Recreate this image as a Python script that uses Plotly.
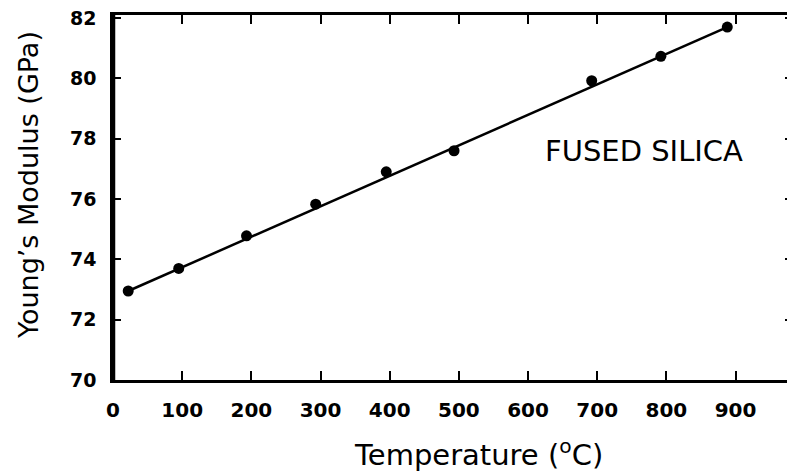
import plotly.graph_objects as go

temperature_c = [22, 95, 193, 293, 395, 493, 692, 792, 888]
youngs_modulus_gpa = [72.95, 73.70, 74.78, 75.83, 76.90, 77.60, 79.92, 80.73, 81.70]
fit_x = [22, 888]
fit_y = [72.95, 81.70]
x_ticks = [0, 100, 200, 300, 400, 500, 600, 700, 800, 900]
y_ticks = [70, 72, 74, 76, 78, 80, 82]

fig = go.Figure()
fig.add_trace(go.Scatter(x=fit_x, y=fit_y, mode="lines",
                         line=dict(color="black", width=2.5), showlegend=False))
fig.add_trace(go.Scatter(x=temperature_c, y=youngs_modulus_gpa, mode="markers",
                         marker=dict(color="black", size=11), showlegend=False))

xtickfont = dict(family="DejaVu Sans", size=20, color="black", weight="bold")
ytickfont = dict(family="DejaVu Sans", size=19, color="black", weight="bold")
fig.update_xaxes(range=[0, 983], tickvals=x_ticks, ticktext=[str(v) for v in x_ticks],
                 ticks="inside", ticklen=9, tickwidth=1.5, tickcolor="black",
                 showline=True, linecolor="black", linewidth=2.5, mirror="ticks",
                 showgrid=False, zeroline=False, tickfont=xtickfont,
                 ticklabelstandoff=10, automargin=False, ticklabeloverflow="allow")
fig.update_yaxes(range=[70, 82.1], tickvals=y_ticks,
                 ticks="inside", ticklen=8, tickwidth=1.5, tickcolor="black",
                 showline=True, linecolor="black", linewidth=2.5, mirror="ticks",
                 showgrid=False, zeroline=False, tickfont=ytickfont,
                 ticklabelstandoff=10, automargin=False, ticklabeloverflow="allow")

fig.add_shape(type="line", xref="paper", yref="paper", x0=0, x1=0, y0=0, y1=1,
              line=dict(color="black", width=4.5))

fig.add_annotation(text="Temperature (<sup>o</sup>C)", xref="paper", yref="paper",
                   x=(478 - 113) / 680, y=-(453 - 380) / 365, showarrow=False,
                   font=dict(family="DejaVu Sans", size=29, color="black"),
                   xanchor="center", yanchor="middle")
fig.add_annotation(text="Young’s Modulus (GPa)", xref="paper", yref="paper",
                   x=(28 - 113) / 680, y=(380 - 185) / 365, showarrow=False,
                   font=dict(family="DejaVu Sans", size=27, color="black"),
                   textangle=-90, xanchor="center", yanchor="middle")
fig.add_annotation(text="FUSED SILICA", x=767, y=77.6, showarrow=False,
                   font=dict(family="DejaVu Sans", size=29, color="black"))

# page body has an 8px default margin, so the figure is sized to fit the window
fig.update_layout(width=787, height=466, margin=dict(l=105, r=2, t=7, b=94),
                  plot_bgcolor="white", paper_bgcolor="white")
fig.write_html("out.html")
